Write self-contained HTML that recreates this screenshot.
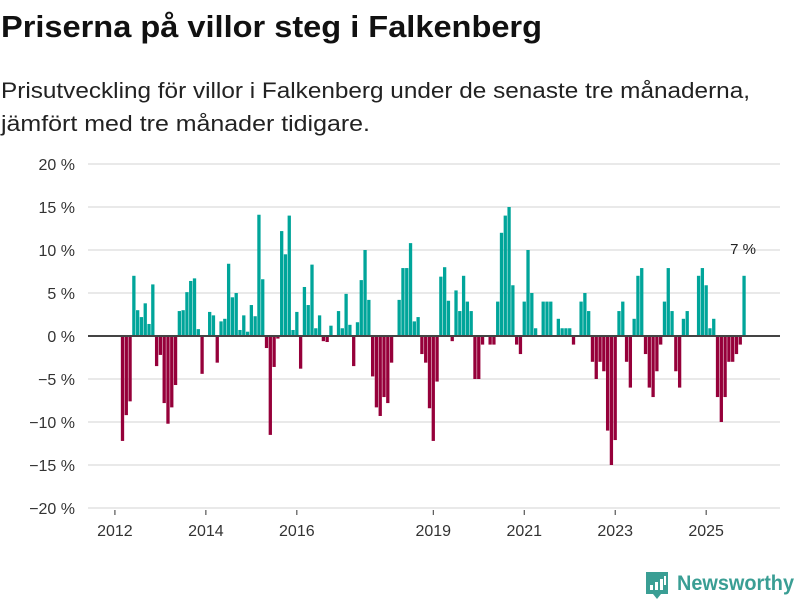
<!DOCTYPE html>
<html><head><meta charset="utf-8">
<style>
body{margin:0;background:#fff;width:800px;height:600px;overflow:hidden;font-family:"Liberation Sans","DejaVu Sans",sans-serif;}
svg{position:absolute;left:0;top:0}
</style></head><body>
<svg id="chart" width="800" height="600">
<text x="1" y="37" font-size="31" font-weight="bold" fill="#111" textLength="541" lengthAdjust="spacingAndGlyphs">Priserna på villor steg i Falkenberg</text>
<g>
<text x="1" y="98" font-size="22" fill="#222" textLength="749" lengthAdjust="spacingAndGlyphs">Prisutveckling för villor i Falkenberg under de senaste tre månaderna,</text>
<text x="1" y="131" font-size="22" fill="#222" textLength="369" lengthAdjust="spacingAndGlyphs">jämfört med tre månader tidigare.</text>
</g>
</svg>
<script>
const yTicks=[-20,-15,-10,-5,0,5,10,15,20];
const xTickYears=[2012,2014,2016,2019,2021,2023,2025];
const startYear=2012, startMonth=2; // first bar: March 2012 (0-based month)
const values=[-12.2,-9.2,-7.6,7.0,3.0,2.2,3.8,1.4,6.0,-3.5,-2.2,-7.8,-10.2,-8.3,-5.7,2.9,3.0,5.1,6.4,6.7,0.8,-4.4,0,2.8,2.4,-3.1,1.7,2.0,8.4,4.5,5.0,0.7,2.4,0.5,3.6,2.3,14.1,6.6,-1.4,-11.5,-3.6,-0.3,
12.2,9.5,14.0,0.7,2.8,-3.8,5.7,3.6,8.3,0.9,2.4,-0.6,-0.7,1.2,0,2.9,0.9,4.9,1.3,-3.5,1.6,6.5,10.0,4.2,-4.7,-8.3,-9.3,-7.1,-7.8,-3.1,0,4.2,7.9,7.9,10.8,1.7,2.2,-2.1,-3.1,-8.4,-12.2,-5.3,
6.9,8.0,4.1,-0.6,5.3,2.9,7.0,4.0,2.9,-5.0,-5.0,-1.0,0,-1.0,-1.0,4.0,12.0,14.0,15.0,5.9,-1.0,-2.1,4.0,10.0,5.0,0.9,0,4.0,4.0,4.0,0,2.0,0.9,0.9,0.9,-1.0,0,4.0,5.0,2.9,
-3.0,-5.0,-3.0,-4.1,-11.0,-15.0,-12.1,2.9,4.0,-3.0,-6.0,2.0,7.0,7.9,-2.1,-6.0,-7.1,-4.1,-1.0,4.0,7.9,2.9,-4.1,-6.0,2.0,2.9,0,0,7.0,7.9,5.9,0.9,2.0,-7.1,-10.0,-7.1,-3.0,-3.0,-2.1,-1.0,7.0];
const lastLabel="7 %";

const svg=document.getElementById('chart');
const NS='http://www.w3.org/2000/svg';
const y0=336, pxPerPct=8.6;
const yS=v=>y0-v*pxPerPct;
const x0=122.5, step=3.79;
const xM=i=>x0+i*step;
const xYear=Y=>xM((Y-startYear)*12-startMonth);
function mk(t,a){const e=document.createElementNS(NS,t);for(const k in a)e.setAttribute(k,a[k]);svg.appendChild(e);return e;}
yTicks.forEach(v=>{
  const g=mk('line',{x1:88,x2:780,y1:yS(v),y2:yS(v),stroke:'#e2e2e2','stroke-width':1.5});
  
  
  const t=mk('text',{x:75,y:yS(v)+6,'text-anchor':'end','font-size':16,fill:'#333'});
  t.textContent=(v<0?'\u2212'+(-v):v)+' %';
  
  
});
xTickYears.forEach(Y=>{
  const x=xYear(Y);
  const l=mk('line',{x1:x,x2:x,y1:510,y2:515,stroke:'#333','stroke-width':1});
  
  
  const t=mk('text',{x:x,y:536,'text-anchor':'middle','font-size':16,fill:'#333'});
  t.textContent=Y;
  
  
});
values.forEach((v,i)=>{
  const x=xM(i)-1.65;
  const r=mk('rect',{x:x,width:3.3,y:Math.min(yS(v),y0),height:Math.abs(yS(v)-y0),fill:v>=0?'#00a59a':'#96003a'});
  
  
});
const z=mk('line',{x1:88,x2:780,y1:y0,y2:y0,stroke:'#444','stroke-width':2});


const lv=values[values.length-1];
const lab=mk('text',{x:xM(values.length-1)-1,y:yS(lv)-22,'text-anchor':'middle','font-size':15,fill:'#222'});
lab.textContent=lastLabel;


const lg=document.createElementNS(NS,'g');


svg.appendChild(lg);
lg.innerHTML='<path d="M646 572 h22 v22 h-7 l-4 5 l-4 -5 h-7 z" fill="#3a9e94"/><rect x="650" y="585" width="3" height="5" fill="#fff"/><rect x="655" y="582" width="3" height="8" fill="#fff"/><rect x="660" y="579" width="3" height="11" fill="#fff"/><rect x="664" y="576" width="2" height="9" fill="#fff"/><text x="677" y="590" font-size="21" font-weight="bold" fill="#3a9e94" textLength="117" lengthAdjust="spacingAndGlyphs">Newsworthy</text>';
</script>
</body></html>
